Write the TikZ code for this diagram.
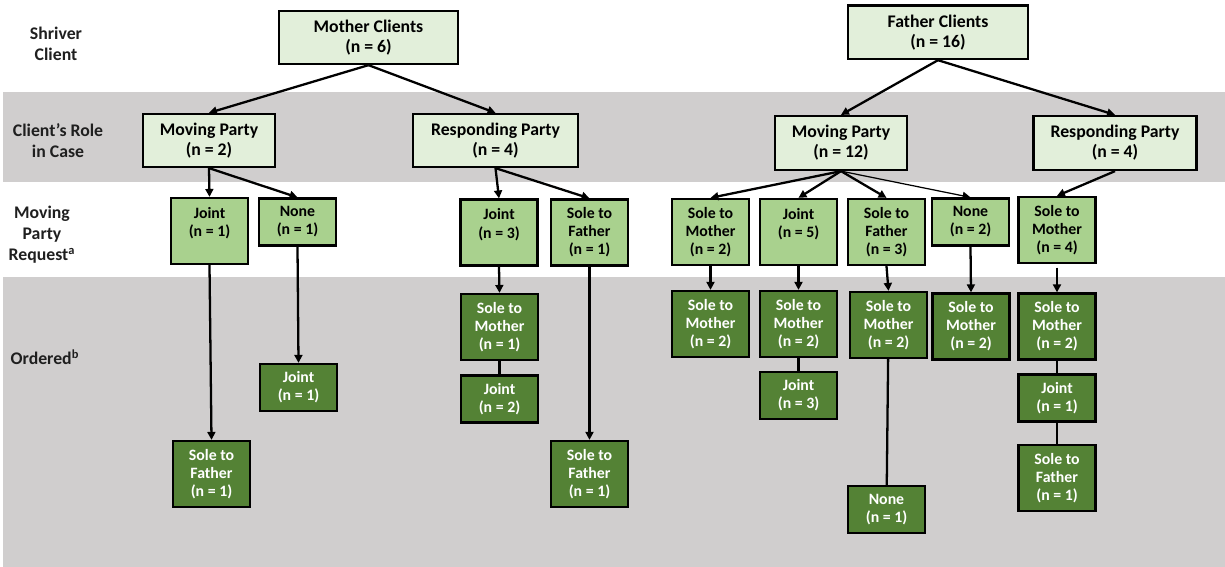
\documentclass[tikz,border=0pt]{standalone}
\usepackage{fontspec}
\setmainfont{Carlito}
\usetikzlibrary{arrows.meta}
\definecolor{bandgray}{HTML}{D0CECE}
\definecolor{palegreen}{HTML}{E2EFDA}
\definecolor{midgreen}{HTML}{A9D18E}
\definecolor{darkgreen}{HTML}{548235}
\definecolor{labelink}{HTML}{1F1F1F}
\begin{document}
\begin{tikzpicture}[x=0.02cm,y=-0.02cm,
    box/.style={draw=black,line width=1.3pt,align=center,inner sep=2pt},
    client/.style={box,fill=palegreen,minimum height=1.06cm,
      font=\bfseries\fontsize{10.1}{11.4}\selectfont},
    request/.style={box,fill=midgreen,minimum width=1.54cm,minimum height=1.32cm,
      font=\bfseries\fontsize{9}{10.3}\selectfont},
    ordered/.style={box,fill=darkgreen,text=white,minimum width=1.54cm,minimum height=1.32cm,
      font=\bfseries\fontsize{9}{10.3}\selectfont},
    short/.style={minimum height=0.94cm},
    rowlabel/.style={align=center,text=labelink,font=\bfseries\fontsize{10.1}{11.9}\selectfont},
    link/.style={line width=1.3pt},
    tip/.style={link,-{Triangle[length=4.5pt,width=4.5pt]}}]
  \useasboundingbox (0,0) rectangle (1225,567);
  % bands
  \fill[bandgray] (3,92) rectangle (1225,182);
  \fill[bandgray] (3,277) rectangle (1225,567);
  % row labels
  \node[rowlabel] (l1) at (56,44) {Shriver\\Client};
  \node[rowlabel] (l2) at (58,141) {Client’s Role\\in Case};
  \node[rowlabel] (l3) at (42,235) {Moving\\Party\\Request\textsuperscript{a}};
  \node[rowlabel] (l4) at (45,357) {Ordered\textsuperscript{b}};
  % clients and roles
  \node[client,minimum width=3.58cm] (mc) at (368.5,37.5) {Mother Clients\\(n = 6)};
  \node[client,minimum width=3.60cm,minimum height=1.07cm] (fc) at (938,32.3) {Father Clients\\(n = 16)};
  \node[client,minimum width=2.64cm] (mmp) at (209,140.5) {Moving Party\\(n = 2)};
  \node[client,minimum width=3.30cm] (mrp) at (495.5,140.5) {Responding Party\\(n = 4)};
  \node[client,minimum width=2.64cm,minimum height=1.08cm] (fmp) at (841,143) {Moving Party\\(n = 12)};
  \node[client,minimum width=3.26cm,minimum height=1.08cm] (frp) at (1115,143) {Responding Party\\(n = 4)};
  % requests
  \node[request] (mq1) at (209.5,231) {Joint\\(n = 1)\\~};
  \node[request,short] (mq2) at (297.5,222) {None\\(n = 1)};
  \node[request] (mq3) at (499,232.5) {Joint\\(n = 3)\\~};
  \node[request] (mq4) at (589.5,232.5) {Sole to\\Father\\(n = 1)};
  \node[request] (fq1) at (710.5,232) {Sole to\\Mother\\(n = 2)};
  \node[request] (fq2) at (798.5,232) {Joint\\(n = 5)\\~};
  \node[request] (fq3) at (886.5,232) {Sole to\\Father\\(n = 3)};
  \node[request,short] (fq4) at (970.5,222) {None\\(n = 2)};
  \node[request] (fq5) at (1057,230) {Sole to\\Mother\\(n = 4)};
  % orders
  \node[ordered] (mo1) at (211.5,474) {Sole to\\Father\\(n = 1)};
  \node[ordered,short] (mo2) at (298.5,387.5) {Joint\\(n = 1)};
  \node[ordered] (mo3) at (499.5,327) {Sole to\\Mother\\(n = 1)};
  \node[ordered,short] (mo4) at (499.5,399) {Joint\\(n = 2)};
  \node[ordered] (mo5) at (589.5,474) {Sole to\\Father\\(n = 1)};
  \node[ordered] (fo1) at (710.5,324) {Sole to\\Mother\\(n = 2)};
  \node[ordered] (fo2) at (798.5,324) {Sole to\\Mother\\(n = 2)};
  \node[ordered,short] (fo3) at (798.5,395.5) {Joint\\(n = 3)};
  \node[ordered] (fo4) at (888.5,325) {Sole to\\Mother\\(n = 2)};
  \node[ordered,short] (fo5) at (886.5,509.5) {None\\(n = 1)};
  \node[ordered] (fo6) at (971,326.5) {Sole to\\Mother\\(n = 2)};
  \node[ordered] (fo7) at (1057,326.5) {Sole to\\Mother\\(n = 2)};
  \node[ordered,short] (fo8) at (1057,398) {Joint\\(n = 1)};
  \node[ordered] (fo9) at (1057,478) {Sole to\\Father\\(n = 1)};
  \begin{scope}[tip]
    \draw (mc.south) to (mmp.north);
    \draw (mc.south) to (mrp.north);
    \draw (fc.south) to (fmp.north);
    \draw (fc.south) to (frp.north);
    \draw (mmp.south) to (mq1.north);
    \draw (mmp.south) to (mq2.north);
    \draw (mrp.south) to (mq3.north);
    \draw (mrp.south) to (mq4.north);
    \draw (fmp.south) to (fq1.north);
    \draw (fmp.south) to (fq2.north);
    \draw (fmp.south) to (fq3.north);
    \draw[line width=0.7pt] (fmp.south) to (fq4.north);
    \draw (frp.south) to (fq5.north);
    \draw (mq1.south) to (mo1.north);
    \draw (mq2.south) to (mo2.north);
    \draw (mq3.south) to (mo3.north);
    \draw (mq4.south) to (mo5.north);
    \draw (fq1.south) to (fo1.north);
    \draw (fq2.south) to (fo2.north);
    \draw (fq3.south) to (fo4.north);
    \draw (fq4.south) to (fo6.north);
    \draw[shorten <=2pt] (fq5.south) to (fo7.north);
  \end{scope}
  \begin{scope}[link]
    \draw (mo3) to (mo4);
    \draw (fo2) to (fo3);
    \draw (fo4) to (fo5);
    \draw (fo7) to (fo8);
    \draw (fo8) to (fo9);
  \end{scope}
\end{tikzpicture}
\end{document}
